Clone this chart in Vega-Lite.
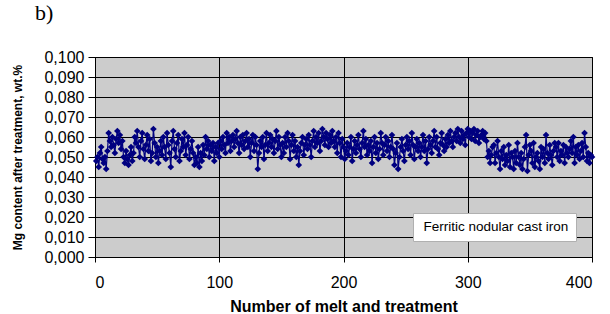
{
"$schema":"https://vega.github.io/schema/vega-lite/v6.json",
"width":497,"height":200,
"autosize":{"type":"none"},
"padding":{"left":95,"top":57,"right":18,"bottom":57},
"background":"white",
"title":{"text":"b)","anchor":"start","frame":"group","dx":-60,"offset":24,"font":"Liberation Serif","fontSize":22,"fontWeight":"normal","color":"black"},
"config":{"view":{"fill":"#cccccc","stroke":"black","strokeWidth":1},
"axis":{"domainColor":"black","tickColor":"black","gridColor":"black","gridOpacity":1,"gridWidth":1,"labelFont":"Liberation Sans","labelColor":"black","titleFont":"Liberation Sans","titleColor":"black","titleFontWeight":"bold"}},
"data":{"values":[
{"n":1,"v":0.048},{"n":2,"v":0.050},{"n":3,"v":0.045},{"n":4,"v":0.052},{"n":5,"v":0.055},{"n":6,"v":0.049},{"n":7,"v":0.047},{"n":8,"v":0.050},{"n":9,"v":0.044},{"n":10,"v":0.053},
{"n":11,"v":0.062},{"n":12,"v":0.058},{"n":13,"v":0.055},{"n":14,"v":0.060},{"n":15,"v":0.056},{"n":16,"v":0.052},{"n":17,"v":0.059},{"n":18,"v":0.063},{"n":19,"v":0.057},{"n":20,"v":0.061},
{"n":21,"v":0.054},{"n":22,"v":0.058},{"n":23,"v":0.050},{"n":24,"v":0.047},{"n":25,"v":0.053},{"n":26,"v":0.049},{"n":27,"v":0.046},{"n":28,"v":0.051},{"n":29,"v":0.055},{"n":30,"v":0.048},
{"n":31,"v":0.052},{"n":32,"v":0.060},{"n":33,"v":0.057},{"n":34,"v":0.063},{"n":35,"v":0.055},{"n":36,"v":0.050},{"n":37,"v":0.058},{"n":38,"v":0.062},{"n":39,"v":0.054},{"n":40,"v":0.049},
{"n":41,"v":0.056},{"n":42,"v":0.061},{"n":43,"v":0.053},{"n":44,"v":0.059},{"n":45,"v":0.048},{"n":46,"v":0.052},{"n":47,"v":0.064},{"n":48,"v":0.057},{"n":49,"v":0.050},{"n":50,"v":0.055},
{"n":51,"v":0.047},{"n":52,"v":0.053},{"n":53,"v":0.058},{"n":54,"v":0.051},{"n":55,"v":0.060},{"n":56,"v":0.055},{"n":57,"v":0.049},{"n":58,"v":0.062},{"n":59,"v":0.056},{"n":60,"v":0.052},
{"n":61,"v":0.045},{"n":62,"v":0.058},{"n":63,"v":0.063},{"n":64,"v":0.054},{"n":65,"v":0.050},{"n":66,"v":0.057},{"n":67,"v":0.061},{"n":68,"v":0.048},{"n":69,"v":0.053},{"n":70,"v":0.059},
{"n":71,"v":0.055},{"n":72,"v":0.062},{"n":73,"v":0.051},{"n":74,"v":0.056},{"n":75,"v":0.060},{"n":76,"v":0.049},{"n":77,"v":0.054},{"n":78,"v":0.058},{"n":79,"v":0.052},{"n":80,"v":0.046},
{"n":81,"v":0.050},{"n":82,"v":0.047},{"n":83,"v":0.055},{"n":84,"v":0.045},{"n":85,"v":0.052},{"n":86,"v":0.048},{"n":87,"v":0.056},{"n":88,"v":0.051},{"n":89,"v":0.060},{"n":90,"v":0.054},
{"n":91,"v":0.058},{"n":92,"v":0.050},{"n":93,"v":0.056},{"n":94,"v":0.053},{"n":95,"v":0.057},{"n":96,"v":0.048},{"n":97,"v":0.055},{"n":98,"v":0.052},{"n":99,"v":0.057},{"n":100,"v":0.050},
{"n":101,"v":0.058},{"n":102,"v":0.054},{"n":103,"v":0.060},{"n":104,"v":0.056},{"n":105,"v":0.052},{"n":106,"v":0.062},{"n":107,"v":0.057},{"n":108,"v":0.060},{"n":109,"v":0.053},{"n":110,"v":0.058},
{"n":111,"v":0.061},{"n":112,"v":0.055},{"n":113,"v":0.059},{"n":114,"v":0.063},{"n":115,"v":0.057},{"n":116,"v":0.052},{"n":117,"v":0.060},{"n":118,"v":0.056},{"n":119,"v":0.061},{"n":120,"v":0.054},
{"n":121,"v":0.058},{"n":122,"v":0.062},{"n":123,"v":0.055},{"n":124,"v":0.059},{"n":125,"v":0.050},{"n":126,"v":0.057},{"n":127,"v":0.061},{"n":128,"v":0.053},{"n":129,"v":0.060},{"n":130,"v":0.056},
{"n":131,"v":0.044},{"n":132,"v":0.052},{"n":133,"v":0.058},{"n":134,"v":0.055},{"n":135,"v":0.060},{"n":136,"v":0.049},{"n":137,"v":0.056},{"n":138,"v":0.062},{"n":139,"v":0.053},{"n":140,"v":0.057},
{"n":141,"v":0.061},{"n":142,"v":0.055},{"n":143,"v":0.059},{"n":144,"v":0.052},{"n":145,"v":0.058},{"n":146,"v":0.063},{"n":147,"v":0.054},{"n":148,"v":0.060},{"n":149,"v":0.056},{"n":150,"v":0.050},
{"n":151,"v":0.057},{"n":152,"v":0.052},{"n":153,"v":0.060},{"n":154,"v":0.055},{"n":155,"v":0.062},{"n":156,"v":0.058},{"n":157,"v":0.049},{"n":158,"v":0.056},{"n":159,"v":0.061},{"n":160,"v":0.053},
{"n":161,"v":0.058},{"n":162,"v":0.050},{"n":163,"v":0.055},{"n":164,"v":0.046},{"n":165,"v":0.053},{"n":166,"v":0.057},{"n":167,"v":0.060},{"n":168,"v":0.051},{"n":169,"v":0.056},{"n":170,"v":0.059},
{"n":171,"v":0.054},{"n":172,"v":0.061},{"n":173,"v":0.056},{"n":174,"v":0.050},{"n":175,"v":0.058},{"n":176,"v":0.063},{"n":177,"v":0.055},{"n":178,"v":0.060},{"n":179,"v":0.057},{"n":180,"v":0.062},
{"n":181,"v":0.053},{"n":182,"v":0.058},{"n":183,"v":0.064},{"n":184,"v":0.060},{"n":185,"v":0.056},{"n":186,"v":0.062},{"n":187,"v":0.059},{"n":188,"v":0.055},{"n":189,"v":0.061},{"n":190,"v":0.057},
{"n":191,"v":0.063},{"n":192,"v":0.058},{"n":193,"v":0.055},{"n":194,"v":0.060},{"n":195,"v":0.052},{"n":196,"v":0.062},{"n":197,"v":0.057},{"n":198,"v":0.050},{"n":199,"v":0.059},{"n":200,"v":0.055},
{"n":201,"v":0.049},{"n":202,"v":0.053},{"n":203,"v":0.057},{"n":204,"v":0.051},{"n":205,"v":0.055},{"n":206,"v":0.060},{"n":207,"v":0.048},{"n":208,"v":0.054},{"n":209,"v":0.058},{"n":210,"v":0.052},
{"n":211,"v":0.056},{"n":212,"v":0.061},{"n":213,"v":0.054},{"n":214,"v":0.050},{"n":215,"v":0.057},{"n":216,"v":0.063},{"n":217,"v":0.055},{"n":218,"v":0.059},{"n":219,"v":0.051},{"n":220,"v":0.056},
{"n":221,"v":0.053},{"n":222,"v":0.058},{"n":223,"v":0.047},{"n":224,"v":0.055},{"n":225,"v":0.060},{"n":226,"v":0.052},{"n":227,"v":0.057},{"n":228,"v":0.049},{"n":229,"v":0.054},{"n":230,"v":0.062},
{"n":231,"v":0.057},{"n":232,"v":0.051},{"n":233,"v":0.056},{"n":234,"v":0.060},{"n":235,"v":0.053},{"n":236,"v":0.058},{"n":237,"v":0.050},{"n":238,"v":0.055},{"n":239,"v":0.061},{"n":240,"v":0.054},
{"n":241,"v":0.046},{"n":242,"v":0.052},{"n":243,"v":0.057},{"n":244,"v":0.044},{"n":245,"v":0.050},{"n":246,"v":0.055},{"n":247,"v":0.059},{"n":248,"v":0.053},{"n":249,"v":0.048},{"n":250,"v":0.056},
{"n":251,"v":0.060},{"n":252,"v":0.054},{"n":253,"v":0.058},{"n":254,"v":0.051},{"n":255,"v":0.062},{"n":256,"v":0.056},{"n":257,"v":0.049},{"n":258,"v":0.055},{"n":259,"v":0.059},{"n":260,"v":0.053},
{"n":261,"v":0.057},{"n":262,"v":0.050},{"n":263,"v":0.055},{"n":264,"v":0.061},{"n":265,"v":0.053},{"n":266,"v":0.058},{"n":267,"v":0.047},{"n":268,"v":0.054},{"n":269,"v":0.060},{"n":270,"v":0.056},
{"n":271,"v":0.052},{"n":272,"v":0.058},{"n":273,"v":0.063},{"n":274,"v":0.055},{"n":275,"v":0.060},{"n":276,"v":0.054},{"n":277,"v":0.051},{"n":278,"v":0.057},{"n":279,"v":0.062},{"n":280,"v":0.056},
{"n":281,"v":0.053},{"n":282,"v":0.059},{"n":283,"v":0.055},{"n":284,"v":0.061},{"n":285,"v":0.057},{"n":286,"v":0.063},{"n":287,"v":0.058},{"n":288,"v":0.055},{"n":289,"v":0.060},{"n":290,"v":0.062},
{"n":291,"v":0.058},{"n":292,"v":0.064},{"n":293,"v":0.060},{"n":294,"v":0.057},{"n":295,"v":0.063},{"n":296,"v":0.059},{"n":297,"v":0.061},{"n":298,"v":0.056},{"n":299,"v":0.062},{"n":300,"v":0.064},
{"n":301,"v":0.060},{"n":302,"v":0.063},{"n":303,"v":0.059},{"n":304,"v":0.062},{"n":305,"v":0.064},{"n":306,"v":0.058},{"n":307,"v":0.061},{"n":308,"v":0.063},{"n":309,"v":0.057},{"n":310,"v":0.060},
{"n":311,"v":0.061},{"n":312,"v":0.063},{"n":313,"v":0.059},{"n":314,"v":0.062},{"n":315,"v":0.058},{"n":316,"v":0.050},{"n":317,"v":0.053},{"n":318,"v":0.047},{"n":319,"v":0.051},{"n":320,"v":0.055},
{"n":321,"v":0.056},{"n":322,"v":0.047},{"n":323,"v":0.052},{"n":324,"v":0.058},{"n":325,"v":0.050},{"n":326,"v":0.044},{"n":327,"v":0.053},{"n":328,"v":0.049},{"n":329,"v":0.055},{"n":330,"v":0.046},
{"n":331,"v":0.051},{"n":332,"v":0.048},{"n":333,"v":0.056},{"n":334,"v":0.045},{"n":335,"v":0.052},{"n":336,"v":0.050},{"n":337,"v":0.044},{"n":338,"v":0.053},{"n":339,"v":0.047},{"n":340,"v":0.057},
{"n":341,"v":0.050},{"n":342,"v":0.046},{"n":343,"v":0.052},{"n":344,"v":0.044},{"n":345,"v":0.049},{"n":346,"v":0.055},{"n":347,"v":0.061},{"n":348,"v":0.043},{"n":349,"v":0.051},{"n":350,"v":0.056},
{"n":351,"v":0.053},{"n":352,"v":0.047},{"n":353,"v":0.057},{"n":354,"v":0.045},{"n":355,"v":0.050},{"n":356,"v":0.052},{"n":357,"v":0.048},{"n":358,"v":0.044},{"n":359,"v":0.055},{"n":360,"v":0.050},
{"n":361,"v":0.054},{"n":362,"v":0.047},{"n":363,"v":0.061},{"n":364,"v":0.052},{"n":365,"v":0.049},{"n":366,"v":0.056},{"n":367,"v":0.051},{"n":368,"v":0.046},{"n":369,"v":0.053},{"n":370,"v":0.057},
{"n":371,"v":0.055},{"n":372,"v":0.050},{"n":373,"v":0.057},{"n":374,"v":0.048},{"n":375,"v":0.053},{"n":376,"v":0.051},{"n":377,"v":0.056},{"n":378,"v":0.047},{"n":379,"v":0.055},{"n":380,"v":0.052},
{"n":381,"v":0.050},{"n":382,"v":0.054},{"n":383,"v":0.058},{"n":384,"v":0.052},{"n":385,"v":0.060},{"n":386,"v":0.047},{"n":387,"v":0.055},{"n":388,"v":0.051},{"n":389,"v":0.056},{"n":390,"v":0.049},
{"n":391,"v":0.053},{"n":392,"v":0.057},{"n":393,"v":0.050},{"n":394,"v":0.062},{"n":395,"v":0.055},{"n":396,"v":0.048},{"n":397,"v":0.052},{"n":398,"v":0.047},{"n":399,"v":0.051},{"n":400,"v":0.050}
]},
"encoding":{
"x":{"field":"n","type":"quantitative","scale":{"domain":[0,400],"nice":false,"zero":false},
"axis":{"values":[0,100,200,300,400],"title":"Number of melt and treatment","labelFontSize":16,"titleFontSize":16,"tickSize":5,"labelPadding":12,"titlePadding":8,"grid":true}},
"y":{"field":"v","type":"quantitative","scale":{"domain":[0,0.1],"nice":false},
"axis":{"values":[0,0.01,0.02,0.03,0.04,0.05,0.06,0.07,0.08,0.09,0.1],"labelExpr":"replace(format(datum.value,'.3f'),'.',',')","title":"Mg content after treatment, wt.%","labelFontSize":16,"titleFontSize":12,"tickSize":7,"labelPadding":4,"titlePadding":19,"grid":true}},
"color":{"datum":"Ferritic nodular cast iron","type":"nominal","scale":{"range":["#000080"]},
"legend":{"title":null,"orient":"none","legendX":318,"legendY":156,"fillColor":"white","strokeColor":"#b0b0b0","padding":7,"symbolType":"circle","symbolOpacity":0,"symbolSize":0,"symbolStrokeWidth":0,"labelFont":"Liberation Sans","labelFontSize":13.5,"labelColor":"black","labelOffset":-10}}
},
"layer":[
{"mark":{"type":"line","strokeWidth":1.2}},
{"mark":{"type":"point","shape":"diamond","filled":true,"size":45,"opacity":1}}
]
}
